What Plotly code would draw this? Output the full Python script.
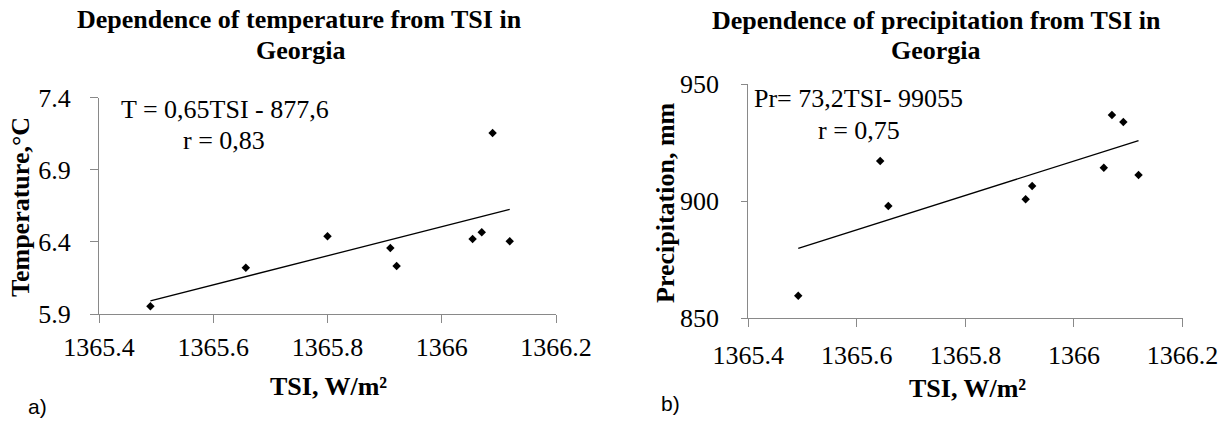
import numpy as np
import plotly.graph_objects as go

# ---- data ----
tsi_temp = [1365.490, 1365.657, 1365.800, 1365.910, 1365.921, 1366.054, 1366.070, 1366.089, 1366.119]
temperature = [5.953, 6.221, 6.438, 6.357, 6.233, 6.420, 6.466, 7.154, 6.404]

tsi_prec = [1365.492, 1365.643, 1365.658, 1365.911, 1365.923, 1366.055, 1366.070, 1366.091, 1366.119]
precipitation = [859.6, 917.1, 897.9, 900.8, 906.5, 914.3, 936.8, 933.8, 911.2]

x_tickvals = [1365.4, 1365.6, 1365.8, 1366.0, 1366.2]
x_ticktext = ["1365.4", "1365.6", "1365.8", "1366", "1366.2"]
temp_tickvals = [5.9, 6.4, 6.9, 7.4]
temp_ticktext = ["5.9", "6.4", "6.9", "7.4"]
prec_tickvals = [850, 900, 950]
prec_ticktext = ["850", "900", "950"]

W, H = 1227, 423
SERIF = "Liberation Serif"
AX = "#898989"


def px(x):
    return x / W


def py(y):
    return 1 - y / H


def trend(xs, ys):
    k, b = np.polyfit(xs, ys, 1)
    xx = [min(xs), max(xs)]
    return xx, [k * v + b for v in xx]


fig = go.Figure()

fig.add_trace(go.Scatter(x=tsi_temp, y=temperature, mode="markers",
                         marker=dict(symbol="diamond", size=6.5, color="black"),
                         xaxis="x", yaxis="y", showlegend=False))
tx, ty = trend(tsi_temp, temperature)
fig.add_trace(go.Scatter(x=tx, y=ty, mode="lines", line=dict(color="black", width=1.3),
                         xaxis="x", yaxis="y", showlegend=False))

fig.add_trace(go.Scatter(x=tsi_prec, y=precipitation, mode="markers",
                         marker=dict(symbol="diamond", size=6.5, color="black"),
                         xaxis="x2", yaxis="y2", showlegend=False))
tx2, ty2 = trend(tsi_prec, precipitation)
fig.add_trace(go.Scatter(x=tx2, y=ty2, mode="lines", line=dict(color="black", width=1.3),
                         xaxis="x2", yaxis="y2", showlegend=False))

fig.update_layout(
    template="none",
    width=W, height=H, autosize=False,
    margin=dict(l=0, r=0, t=0, b=0),
    paper_bgcolor="white", plot_bgcolor="white",
    font=dict(family=SERIF, size=26, color="black"),
    xaxis=dict(domain=[px(99), px(556)], range=[1365.4, 1366.2], anchor="y",
               tickvals=x_tickvals, ticktext=x_ticktext, ticklen=8, ticklabelstandoff=2),
    yaxis=dict(domain=[py(314), py(97.5)], range=[5.9, 7.4], anchor="x",
               tickvals=temp_tickvals, ticktext=temp_ticktext, ticklen=8, ticklabelstandoff=14),
    xaxis2=dict(domain=[px(748.3), px(1182.5)], range=[1365.4, 1366.2], anchor="y2",
                tickvals=x_tickvals, ticktext=x_ticktext, ticklen=8, ticklabelstandoff=5),
    yaxis2=dict(domain=[py(318.3), py(84)], range=[850, 950], anchor="x2",
                tickvals=prec_tickvals, ticktext=prec_ticktext, ticklen=6, ticklabelstandoff=17),
)
common = dict(showgrid=False, zeroline=False, showline=True, linecolor=AX, linewidth=1,
              ticks="outside", tickcolor=AX, tickwidth=1,
              tickfont=dict(family=SERIF, size=26, color="black"))
fig.update_xaxes(**common)
fig.update_yaxes(**common)

bold = dict(family=SERIF, size=26, color="black")
reg = dict(family=SERIF, size=26, color="black")
sans = dict(family="Liberation Sans", size=21, color="black")


def ann(text, x, y, font, angle=0):
    fig.add_annotation(text=text, x=px(x), y=py(y), xref="paper", yref="paper",
                       xanchor="center", yanchor="middle", showarrow=False,
                       font=font, textangle=angle)


# panel letters
ann("a)", 37, 406, sans)
ann("b)", 670, 403, sans)

# titles
ann("<b>Dependence of temperature from TSI in</b>", 299, 20, bold)
ann("<b>Georgia</b>", 301, 51, bold)
ann("<b>Dependence of precipitation from TSI in</b>", 936.5, 21, bold)
ann("<b>Georgia</b>", 936, 51, bold)

# axis titles
ann("<b>Temperature,°C</b>", 21, 207, bold, -90)
ann("<b>Precipitation, mm</b>", 665, 203, bold, -90)
ann("<b>TSI, W/m²</b>", 328, 386, bold)
ann("<b>TSI, W/m²</b>", 967, 388, bold)

# equations
ann("T = 0,65TSI - 877,6", 225, 110, reg)
ann("r = 0,83", 224, 140, reg)
ann("Pr= 73,2TSI- 99055", 858, 98, reg)
ann("r = 0,75", 859, 130, reg)

fig.write_html("out.html")
